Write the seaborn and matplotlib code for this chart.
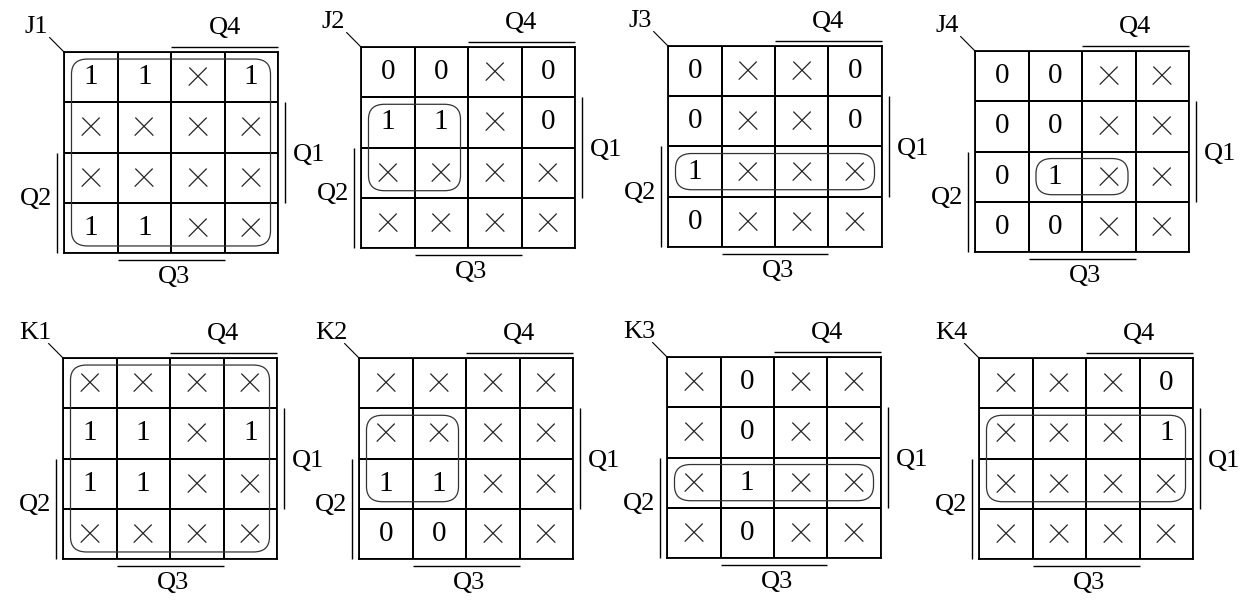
import numpy as np
import matplotlib
matplotlib.use("Agg")
import matplotlib.pyplot as plt
from matplotlib.colors import ListedColormap
from matplotlib.patches import FancyBboxPatch
import seaborn as sns

sns.set_style("white")
plt.rcParams["font.family"] = ["Liberation Serif", "DejaVu Serif"]

# Karnaugh maps: rows top -> bottom, "x" = don't care
names = ["J1", "J2", "J3", "J4", "K1", "K2", "K3", "K4"]
J1 = ["11x1", "xxxx", "xxxx", "11xx"]
J2 = ["00x0", "11x0", "xxxx", "xxxx"]
J3 = ["0xx0", "0xx0", "1xxx", "0xxx"]
J4 = ["00xx", "00xx", "01xx", "00xx"]
K1 = ["xxxx", "11x1", "11xx", "xxxx"]
K2 = ["xxxx", "xxxx", "11xx", "00xx"]
K3 = ["x0xx", "x0xx", "x1xx", "x0xx"]
K4 = ["xxx0", "xxx1", "xxxx", "xxxx"]
maps = [J1, J2, J3, J4, K1, K2, K3, K4]

# grouped cells: (first row, last row, first col, last col)
groups = [(0, 3, 0, 3), (1, 2, 0, 1), (2, 2, 0, 3), (2, 2, 1, 2),
          (0, 3, 0, 3), (1, 2, 0, 1), (2, 2, 0, 3), (1, 2, 0, 3)]

# top-left corner of each grid in pixels
corners = [(64, 52), (361, 47), (668, 46), (975, 51),
           (63, 358), (359, 358), (667, 357), (979, 358)]

W, H = 1246, 604
GW, GH = 214, 201

fig = plt.figure(figsize=(W / 100, H / 100), dpi=100)
white = ListedColormap(["white"])


def draw_kmap(ax, name, cells, group):
    labels = np.array([["×" if c == "x" else c for c in row] for row in cells])
    sns.heatmap(np.zeros((4, 4)), ax=ax, cmap=white, cbar=False,
                annot=labels, fmt="", annot_kws={"size": 21, "color": "black"},
                linewidths=1.1, linecolor="black",
                xticklabels=False, yticklabels=False)
    for t in ax.texts:
        if t.get_text() == "×":
            t.set_fontfamily(["Roboto", "DejaVu Sans"])
            t.set_fontweight("light")
            t.set_fontsize(34)
            t.set_color("#222222")
            x, y = t.get_position()
            t.set_position((x, y - 0.08))
    for s in ax.spines.values():
        s.set_visible(True)
        s.set_linewidth(1.3)
        s.set_color("black")

    line = dict(color="black", lw=1.0, clip_on=False, solid_capstyle="butt")
    ax.plot([2, 4], [-0.1, -0.1], **line)      # Q4
    ax.plot([4.13, 4.13], [1, 3], **line)      # Q1
    ax.plot([-0.13, -0.13], [2, 4], **line)    # Q2
    ax.plot([1, 3], [4.14, 4.14], **line)      # Q3
    ax.plot([-0.27, 0], [-0.29, 0], color="black", lw=0.8, clip_on=False)

    txt = dict(fontsize=19, color="black", clip_on=False)
    ax.text(3.0, -0.47, "Q4", ha="center", va="center", **txt)
    ax.text(4.27, 2.05, "Q1", ha="left", va="center", **txt)
    ax.text(-0.22, 2.93, "Q2", ha="right", va="center", **txt)
    ax.text(2.05, 4.47, "Q3", ha="center", va="center", **txt)
    ax.text(-0.52, -0.5, name, ha="center", va="center", **txt)

    r0, r1, c0, c1 = group
    ins = 0.14
    box = FancyBboxPatch((c0 + ins, r0 + ins), c1 - c0 + 1 - 2 * ins,
                         r1 - r0 + 1 - 2 * ins,
                         boxstyle="round,pad=0,rounding_size=0.3",
                         fill=False, ec="#333333", lw=0.9, clip_on=False)
    ax.add_patch(box)


for name, cells, group, (x0, y0) in zip(names, maps, groups, corners):
    ax = fig.add_axes([x0 / W, 1 - (y0 + GH) / H, GW / W, GH / H])
    draw_kmap(ax, name, cells, group)

fig.savefig("out.png", dpi=100)
